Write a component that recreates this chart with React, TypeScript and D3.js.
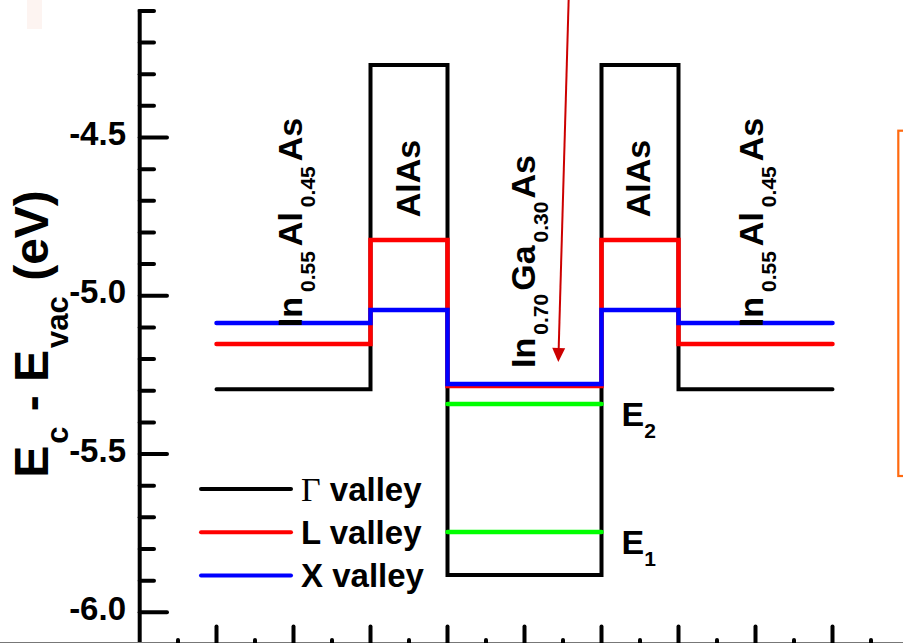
import React from 'react';
import * as d3 from 'd3';

// Layer boundaries (x axis units) and conduction-band energies per layer
const layerBoundaries = [1, 3, 4, 6, 7, 9];
const gammaValley = [-5.295, -4.271, -5.882, -4.271, -5.295];
const lValley = [-5.152, -4.824, -5.285, -4.824, -5.152];
const xValley = [-5.086, -5.045, -5.279, -5.045, -5.086];
const levelNames = ['E', 'E'];
const levelSubs = ['1', '2'];
const levelValues = [-5.746, -5.342];

const yMajorTicks = [-4.5, -5.0, -5.5, -6.0];
const yTickLabels = ['-4.5', '-5.0', '-5.5', '-6.0'];
const yMinorTicks = [-4.1, -4.2, -4.3, -4.4, -4.6, -4.7, -4.8, -4.9, -5.1, -5.2, -5.3, -5.4, -5.6, -5.7, -5.8, -5.9];
const xMajorTicks = [1, 2, 3, 4, 5, 6, 7, 8, 9];
const xMinorTicks = [0.5, 1.5, 2.5, 3.5, 4.5, 5.5, 6.5, 7.5, 8.5, 9.5];

const legendLabels = ['Γ', 'L', 'X'];
const legendColors = ['#000000', '#ff0000', '#0000ff'];

const FONT = "'Liberation Sans', Arial, sans-serif";

type Part = { t: string; sub?: boolean };

function SubText({ parts, size, subSize, shift, gap = 0, ...rest }: any) {
  let cur = 0;
  const out: any[] = [];
  parts.forEach((p: Part, i: number) => {
    const target = p.sub ? shift : 0;
    const dy = target - cur;
    cur = target;
    out.push(
      <tspan key={i} dy={dy} dx={i > 0 ? gap : 0} fontSize={p.sub ? subSize : size}>{p.t}</tspan>
    );
  });
  return <text fontFamily={FONT} fontWeight="bold" {...rest}>{out}</text>;
}

export default function App() {
  const x = d3.scaleLinear().domain([0, 9]).range([139.5, 832.5]);
  const y = d3.scaleLinear().domain([-4.5, -6.0]).range([137.5, 612.3]);

  const stepLine = d3
    .line<[number, number]>()
    .x((d) => x(d[0]))
    .y((d) => y(d[1]))
    .curve(d3.curveStepAfter);

  const makePts = (vals: number[]): [number, number][] => {
    const pts: [number, number][] = vals.map((v, i) => [layerBoundaries[i], v]);
    pts.push([layerBoundaries[layerBoundaries.length - 1], vals[vals.length - 1]]);
    return pts;
  };

  const series = [
    { vals: gammaValley, color: '#000000', w: 4 },
    { vals: lValley, color: '#ff0000', w: 4.5 },
    { vals: xValley, color: '#0000ff', w: 4.5 },
  ];

  // arrow geometry
  const a0 = [568.7, -2];
  const tip = [558.3, 362];
  const dx = tip[0] - a0[0];
  const dyA = tip[1] - a0[1];
  const len = Math.hypot(dx, dyA);
  const ux = dx / len, uy = dyA / len;
  const hl = 14, hw = 6.5;
  const bx = tip[0] - ux * hl, by = tip[1] - uy * hl;
  const head = `${tip[0]},${tip[1]} ${bx - uy * hw},${by + ux * hw} ${bx + uy * hw},${by - ux * hw}`;

  const wellL = layerBoundaries[2];
  const wellR = layerBoundaries[3];

  return (
    <svg
      width={903}
      height={643}
      style={{ position: 'absolute', left: 0, top: 0, background: '#fff' }}
    >
      <rect x={0} y={0} width={903} height={643} fill="#fff" />
      <rect x={27} y={0} width={15} height={29} fill="#fdf4f1" />

      {/* y axis */}
      <line x1={139.7} x2={139.7} y1={y(-4.095)} y2={650} stroke="#000" strokeWidth={4} />
      {yMinorTicks.map((t) => (
        <line key={'m' + t} x1={139.7} x2={154} y1={y(t)} y2={y(t)} stroke="#000" strokeWidth={4} strokeLinecap="round" />
      ))}
      {yMajorTicks.map((t, i) => (
        <g key={'M' + t}>
          <line x1={139.7} x2={167} y1={y(t)} y2={y(t)} stroke="#000" strokeWidth={4} strokeLinecap="round" />
          <text x={126} y={y(t) + 7.5} textAnchor="end" fontFamily={FONT} fontWeight="bold" fontSize={33}>
            {yTickLabels[i]}
          </text>
        </g>
      ))}

      {/* x axis */}
      <line x1={0} x2={903} y1={642.5} y2={642.5} stroke="#777" strokeWidth={1} />
      {xMajorTicks.map((t) => (
        <line key={'xm' + t} x1={x(t)} x2={x(t)} y1={626.5} y2={660} stroke="#000" strokeWidth={4} strokeLinecap="round" />
      ))}
      {xMinorTicks.map((t) => (
        <line key={'xn' + t} x1={x(t)} x2={x(t)} y1={640} y2={660} stroke="#000" strokeWidth={4} strokeLinecap="round" />
      ))}

      {/* y label */}
      <SubText
        transform="translate(48,334) rotate(-90)"
        textAnchor="middle"
        size={48}
        subSize={31}
        shift={20}
        gap={2}
        parts={[
          { t: 'E' },
          { t: 'c', sub: true },
          { t: ' - E' },
          { t: 'vac', sub: true },
          { t: ' (eV)' },
        ]}
      />

      {/* band lines */}
      {series.map((s, i) => (
        <path
          key={i}
          d={stepLine(makePts(s.vals)) || ''}
          fill="none"
          stroke={s.color}
          strokeWidth={s.w}
          strokeLinejoin="miter"
          strokeLinecap="round"
        />
      ))}

      {/* confined levels */}
      {levelValues.map((v, i) => (
        <g key={'lv' + i}>
          <line x1={x(wellL)} x2={x(wellR)} y1={y(v)} y2={y(v)} stroke="#00ff00" strokeWidth={4.5} strokeLinecap="round" />
          <SubText
            x={x(wellR) + 20}
            y={y(v) + 22}
            size={34}
            subSize={21}
            shift={12}
            parts={[{ t: levelNames[i] }, { t: levelSubs[i], sub: true }]}
          />
        </g>
      ))}

      {/* layer labels */}
      <SubText
        transform="translate(302,222.5) rotate(-90)"
        textAnchor="middle"
        size={34}
        subSize={21}
        shift={13}
        gap={5}
        parts={[{ t: 'In' }, { t: '0.55', sub: true }, { t: 'Al' }, { t: '0.45', sub: true }, { t: 'As' }]}
      />
      <SubText
        transform="translate(763,222.5) rotate(-90)"
        textAnchor="middle"
        size={34}
        subSize={21}
        shift={13}
        gap={5}
        parts={[{ t: 'In' }, { t: '0.55', sub: true }, { t: 'Al' }, { t: '0.45', sub: true }, { t: 'As' }]}
      />
      <SubText
        transform="translate(420,178.5) rotate(-90)"
        textAnchor="middle"
        size={34}
        subSize={21}
        shift={13}
        parts={[{ t: 'AlAs' }]}
      />
      <SubText
        transform="translate(650,178.5) rotate(-90)"
        textAnchor="middle"
        size={34}
        subSize={21}
        shift={13}
        parts={[{ t: 'AlAs' }]}
      />
      <SubText
        transform="translate(535,261.5) rotate(-90)"
        textAnchor="middle"
        size={34}
        subSize={21}
        shift={13}
        gap={3}
        parts={[{ t: 'In' }, { t: '0.70', sub: true }, { t: 'Ga' }, { t: '0.30', sub: true }, { t: 'As' }]}
      />

      {/* arrow */}
      <line x1={a0[0]} y1={a0[1]} x2={bx} y2={by} stroke="#cc0000" strokeWidth={2} />
      <polygon points={head} fill="#cc0000" />

      {/* legend */}
      {legendLabels.map((l, i) => {
        const ly = 489 + i * 43.3;
        return (
          <g key={'lg' + i}>
            <line x1={201} x2={291} y1={ly} y2={ly} stroke={legendColors[i]} strokeWidth={4} strokeLinecap="round" />
            <text x={301} y={ly + 11.5} fontSize={33}>
              <tspan
                fontFamily={i === 0 ? "'Liberation Serif', 'Times New Roman', serif" : FONT}
                fontWeight={i === 0 ? 'normal' : 'bold'}
                fontSize={i === 0 ? 34 : 33}
              >
                {l}
              </tspan>
              <tspan fontFamily={FONT} fontWeight="bold">{' valley'}</tspan>
            </text>
          </g>
        );
      })}

      {/* orange box (partially visible) */}
      <rect x={898.3} y={130.7} width={40} height={345.3} fill="none" stroke="#ff6a10" strokeWidth={2.2} />
    </svg>
  );
}
